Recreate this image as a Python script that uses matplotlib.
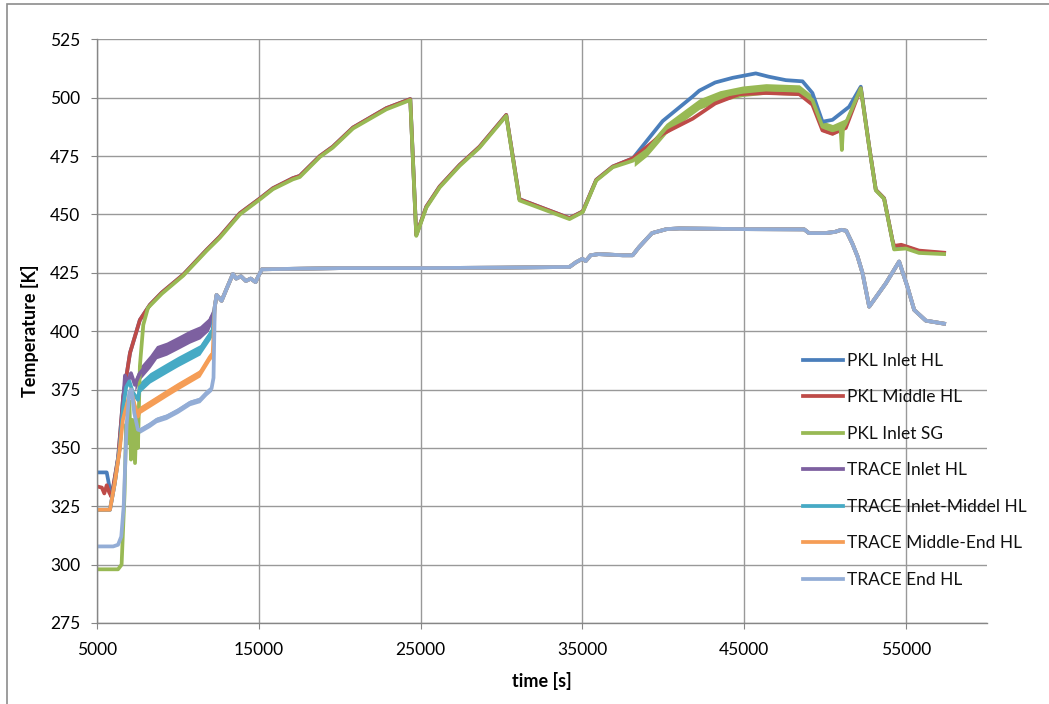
import numpy as np
import matplotlib
matplotlib.use("Agg")
import matplotlib.pyplot as plt
from matplotlib.patches import Rectangle

plt.rcParams.update({
    "font.family": ["Lato", "DejaVu Sans"],
    "font.size": 12,
    "text.color": "#111111",
})

# measured PKL temperatures, time [s] / temperature [K]
pkl_inlet_hl_t = [5000, 5600, 5750, 5900, 6310, 6620, 7040, 7650, 8270, 9000, 10330, 11770,
                  12590, 13830, 15060, 15870, 17100, 17530, 18770, 19570, 20820, 22880, 24360,
                  24730, 25350, 26170, 27410, 28640, 30290, 31110, 34200, 35020, 35850, 36870,
                  38110, 39960, 41810, 42220, 43200, 44280, 45710, 46500, 47570, 48600, 49210,
                  49830, 50450, 51480, 52200, 52720, 53130, 53640, 54150, 54260, 54980, 55800,
                  57350]
pkl_inlet_hl_T = [339.5, 339.5, 334.0, 329.0, 346.0, 372.0, 390.7, 404.8, 411.3, 416.5, 424.2, 434.8,
                  440.5, 450.5, 456.8, 461.2, 465.5, 466.5, 475.0, 479.0, 487.2, 495.5, 499.4,
                  441.2, 453.3, 461.9, 471.2, 479.0, 492.6, 456.5, 448.4, 451.3, 464.8, 470.5,
                  474.0, 490.0, 500.5, 503.0, 506.5, 508.5, 510.4, 509.0, 507.5, 507.0, 502.0,
                  489.7, 490.5, 496.1, 504.7, 479.0, 460.5, 456.9, 439.1, 435.5, 436.2, 434.1,
                  433.4]

pkl_middle_hl_t = [5000, 5300, 5450, 5600, 5750, 5900, 6310, 6620, 7040, 7650, 8270, 9000, 10330,
                   11770, 12590, 13830, 15060, 15870, 17100, 17530, 18770, 19570, 20820, 22880,
                   24360, 24730, 25350, 26170, 27410, 28640, 30290, 31110, 34200, 35020, 35850,
                   36870, 38110, 39960, 41810, 43200, 44690, 46340, 48400, 49210, 49830, 50450,
                   51270, 52200, 52720, 53130, 53640, 54150, 54260, 54700, 55800, 57350]
pkl_middle_hl_T = [333.5, 333.0, 330.5, 334.0, 331.0, 329.0, 346.0, 372.0, 390.7, 404.8, 411.3, 416.5,
                   424.2, 434.8, 440.5, 450.5, 456.8, 461.2, 465.5, 466.5, 475.0, 479.0, 487.2,
                   495.5, 499.4, 441.2, 453.3, 461.9, 471.2, 479.0, 492.6, 456.5, 448.4, 451.3,
                   464.8, 470.5, 474.0, 484.5, 491.0, 497.5, 501.5, 502.0, 501.5, 497.0, 486.0,
                   484.5, 487.0, 504.0, 479.0, 460.5, 456.9, 439.1, 436.5, 437.0, 434.5, 433.6]

pkl_inlet_sg_t = [5000, 6300, 6520, 6700, 6800, 6900, 7000, 7100, 7200, 7350, 7450, 7530, 7650,
                  7860, 8150, 9000, 10330, 11770, 12590, 13830, 15060, 15870, 17100, 17530, 18770,
                  19570, 20820, 22880, 24360, 24730, 25350, 26170, 27410, 28640, 30290, 31110,
                  34200, 35020, 35850, 36870, 38110, 39000, 40170, 42220, 43500, 44900, 46340,
                  48400, 49210, 49830, 50450, 50950, 51030, 51100, 51270, 52200, 52720, 53130,
                  53640, 54150, 54260, 54980, 55800, 57350]
pkl_inlet_sg_T = [298.0, 298.0, 300.0, 330.0, 360.0, 352.0, 370.0, 345.0, 362.0, 343.5, 365.0, 350.0,
                  385.0, 402.7, 410.0, 416.0, 423.8, 434.4, 440.0, 450.0, 456.4, 460.8, 465.0, 466.0,
                  474.6, 478.6, 486.8, 495.0, 499.0, 440.8, 452.9, 461.5, 470.8, 478.6, 492.2,
                  456.0, 448.0, 451.0, 464.5, 470.2, 473.0, 477.5, 487.0, 497.5, 500.8, 502.5,
                  503.5, 503.0, 499.0, 487.6, 486.0, 487.0, 477.6, 487.0, 489.0, 504.0, 478.8,
                  460.3, 456.7, 438.9, 435.0, 435.4, 433.5, 433.0]
# scatter band of the SG signal in the second heat-up
sg_band_t = [38200, 39000, 40170, 42220, 43500, 44900, 46340, 48400, 49210, 49830, 50450, 51270,
             52000]
sg_band_lo = [470.5, 475.0, 484.5, 495.0, 498.5, 500.5, 501.5, 501.0, 496.5, 485.5, 484.0, 487.0,
              500.0]
sg_band_hi = [474.5, 479.5, 489.0, 499.5, 503.0, 505.0, 506.0, 505.5, 501.0, 490.0, 488.5, 491.0,
              503.5]

# TRACE results, early part (separate per node)
trace_inlet_t = [5000, 5800, 6100, 6400, 6600, 6730, 6900, 7100, 7340, 7650, 8270, 8680, 9300,
                 10000, 10740, 11360, 11870, 12080, 12200]
trace_inlet_T = [323.5, 323.5, 335.0, 350.0, 368.0, 381.0, 378.0, 382.0, 377.0, 382.0, 387.0, 391.0,
                 392.5, 395.0, 397.7, 399.5, 402.7, 406.0, 407.0]
trace_inlet_mid_t = [5000, 5800, 6100, 6400, 6600, 6800, 7000, 7200, 7530, 7650, 8270, 9300, 10000,
                     11360, 11980, 12150]
trace_inlet_mid_T = [323.5, 323.5, 335.0, 350.0, 366.0, 376.0, 378.5, 374.0, 370.6, 376.0, 380.0,
                     384.2, 387.0, 392.0, 398.4, 400.5]
trace_mid_end_t = [5000, 5800, 6100, 6400, 6600, 6900, 7100, 7300, 7530, 7650, 8270, 9300, 10000,
                   11360, 11980, 12150]
trace_mid_end_T = [323.5, 323.5, 335.0, 349.0, 362.0, 370.0, 375.0, 369.0, 363.4, 366.3, 369.0,
                   373.5, 376.5, 382.0, 389.0, 390.5]
trace_end_t = [5000, 6000, 6300, 6500, 6650, 6830, 7000, 7140, 7300, 7530, 7650, 8270, 8680, 9300,
               10000, 10740, 11360, 11770, 12080, 12200]
trace_end_T = [307.8, 307.8, 308.5, 312.0, 325.0, 360.0, 374.0, 375.0, 365.0, 357.8, 357.5, 360.0,
               362.0, 363.4, 366.0, 369.3, 370.6, 373.6, 375.5, 380.0]

# noisy early bands: half widths [K] of the scatter of each TRACE node
trace_band_start = 7300
trace_band_half = [2.8, 2.2, 1.6, 1.2]

# TRACE results after ~12300 s, all nodes on top of each other
trace_late_t = [12280, 12390, 12700, 13000, 13400, 13600, 13900, 14200, 14500, 14800, 15000, 15200,
                20000, 25000, 30000, 34200, 34600, 35000, 35200, 35500, 36000, 37500, 38100, 38500,
                39300, 40200, 41000, 45000, 48700, 49000, 50000, 50600, 51000, 51300, 51680, 52000,
                52310, 52720, 53750, 54570, 55080, 55500, 56220, 57350]
trace_late_T = [410.5, 415.5, 413.0, 418.0, 424.5, 422.5, 423.5, 421.5, 422.5, 421.0, 424.0, 426.5,
                427.0, 427.0, 427.2, 427.5, 429.5, 431.0, 430.0, 432.5, 433.0, 432.5, 432.5, 436.0,
                442.0, 443.7, 444.0, 443.7, 443.6, 442.0, 442.0, 442.5, 443.4, 443.0, 437.5, 432.0,
                424.8, 410.5, 420.5, 429.8, 419.1, 409.1, 404.5, 403.2]

labels = ["PKL Inlet HL", "PKL Middle HL", "PKL Inlet SG", "TRACE Inlet HL",
          "TRACE Inlet-Middel HL", "TRACE Middle-End HL", "TRACE End HL"]
colors = ["#4a7ebb", "#be4b48", "#98b954", "#7d60a0", "#46aac5", "#f59d56", "#93add6"]

fig = plt.figure(figsize=(10.49, 7.04), dpi=100)
ax = fig.add_axes([97 / 1049, 1 - 623 / 704, 890 / 1049, (623 - 39.3) / 704])

lw = 2.7
ax.plot(pkl_inlet_hl_t, pkl_inlet_hl_T, color=colors[0], lw=lw, label=labels[0])
ax.plot(pkl_middle_hl_t, pkl_middle_hl_T, color=colors[1], lw=lw, label=labels[1])
ax.fill_between(sg_band_t, sg_band_lo, sg_band_hi, color=colors[2], lw=0)
ax.plot(pkl_inlet_sg_t, pkl_inlet_sg_T, color=colors[2], lw=lw, label=labels[2])

early = [(trace_inlet_t, trace_inlet_T), (trace_inlet_mid_t, trace_inlet_mid_T),
         (trace_mid_end_t, trace_mid_end_T), (trace_end_t, trace_end_T)]
for i, (t, T) in enumerate(early):
    t_all = np.concatenate([t, trace_late_t])
    T_all = np.concatenate([T, trace_late_T])
    c = colors[3 + i]
    tt = np.array(t)
    m = tt >= trace_band_start
    h = trace_band_half[i]
    ax.fill_between(tt[m], np.array(T)[m] - h, np.array(T)[m] + h, color=c, lw=0)
    ax.plot(t_all, T_all, color=c, lw=lw, label=labels[3 + i])

ax.set_xlim(5000, 60000)
ax.set_ylim(275, 525)
ax.set_xticks(np.arange(5000, 55001, 10000))
ax.set_yticks(np.arange(275, 526, 25))
ax.grid(True, color="#999999", lw=1.0)
ax.set_axisbelow(True)
for s in ["top", "right"]:
    ax.spines[s].set_visible(False)
for s in ["left", "bottom"]:
    ax.spines[s].set_color("#868686")
    ax.spines[s].set_linewidth(1.0)
ax.tick_params(axis="both", direction="out", length=4.5, color="#868686", labelsize=12.5)
ax.tick_params(axis="y", pad=7.5)
ax.tick_params(axis="x", pad=9.5)

ax.set_xlabel("time [s]", fontsize=13, fontweight="bold", labelpad=10)
ax.set_ylabel("Temperature [K]", fontsize=13, fontweight="bold", labelpad=8)

ax.legend(loc="upper left", bbox_to_anchor=(803 / 1049, 1 - 353 / 704),
          bbox_transform=fig.transFigure, frameon=False, fontsize=12.5,
          handlelength=2.3, handletextpad=0.25, labelspacing=1.18,
          borderpad=0, borderaxespad=0)

# chart area border
fig.patches.append(Rectangle((7 / 1049, -0.05), 1.2, 1 - 4 / 704 + 0.05,
                             transform=fig.transFigure, fill=False,
                             edgecolor="#8c8c8c", lw=1.2))

fig.savefig("out.png", dpi=100, facecolor="white")
